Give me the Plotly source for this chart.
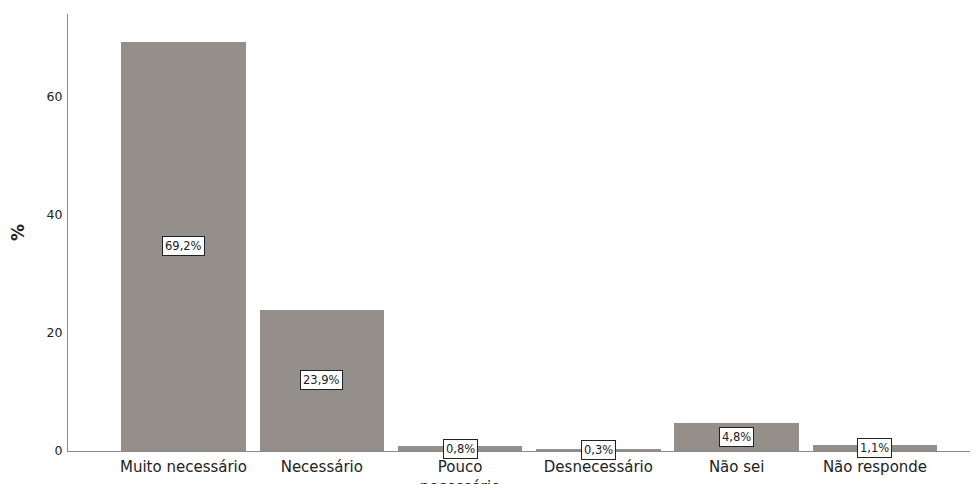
import plotly.graph_objects as go

categories = ["Muito necessário", "Necessário", "Pouco<br>necessário", "Desnecessário", "Não sei", "Não responde"]
values = [69.2, 23.9, 0.8, 0.3, 4.8, 1.1]
labels = ["69,2%", "23,9%", "0,8%", "0,3%", "4,8%", "1,1%"]

bar_color = "#958F8C"
axis_color = "#8A8A8A"
font_family = "DejaVu Sans"

fig = go.Figure()
fig.add_trace(go.Bar(
    x=list(range(len(categories))),
    y=values,
    width=0.9,
    marker=dict(color=bar_color, line=dict(width=0)),
    hoverinfo="skip",
))

for i, (v, lab) in enumerate(zip(values, labels)):
    fig.add_annotation(
        x=i, y=v / 2, text=lab, showarrow=False,
        font=dict(family=font_family, size=11.5, color="#222222"),
        bgcolor="white", bordercolor="#222222", borderwidth=1, borderpad=2,
    )

# page body has an 8px default margin, so the figure is sized to fit the window
fig.update_layout(
    width=970, height=476,
    margin=dict(l=60, r=0, t=6, b=33),
    paper_bgcolor="white", plot_bgcolor="white",
    showlegend=False,
    font=dict(family=font_family, color="#222222"),
    bargap=0,
)
fig.update_xaxes(
    range=[-0.835, 5.745],
    automargin=False,
    tickmode="array",
    tickvals=list(range(len(categories))),
    ticktext=categories,
    tickfont=dict(size=15, family=font_family, color="#222222"),
    showline=True, linecolor=axis_color, linewidth=1,
    showgrid=False, zeroline=False,
    ticks="outside", ticklen=2, tickcolor="rgba(0,0,0,0)",
)
fig.update_yaxes(
    range=[0, 73.9],
    automargin=False,
    tickvals=[0, 20, 40, 60],
    tickfont=dict(size=12.5, family=font_family, color="#222222"),
    showline=True, linecolor=axis_color, linewidth=1,
    showgrid=False, zeroline=False,
    ticks="outside", ticklen=2, tickcolor="rgba(0,0,0,0)",
    title=dict(text="<b>%</b>", font=dict(size=17, family=font_family, color="#222222"), standoff=26),
)

fig.write_html("out.html")
